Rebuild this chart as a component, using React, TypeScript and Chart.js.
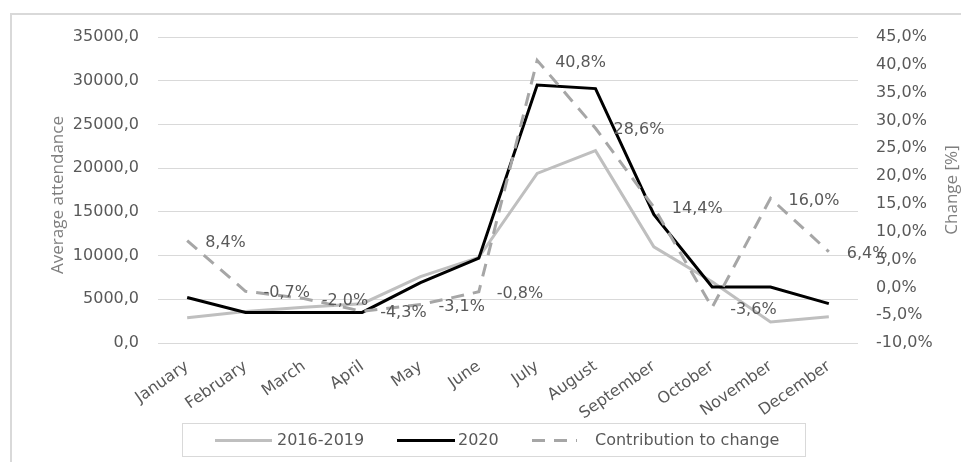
import React, { useEffect, useRef } from "react";
import { Chart, registerables } from "chart.js";

Chart.register(...registerables);

const months = [
  "January", "February", "March", "April", "May", "June",
  "July", "August", "September", "October", "November", "December",
];
const attendance2016to2019 = [2900, 3600, 4100, 4500, 7600, 9800, 19400, 22000, 11000, 7000, 2400, 3000];
const attendance2020 = [5200, 3500, 3500, 3500, 6900, 9700, 29500, 29100, 14700, 6400, 6400, 4500];
const contribution = [8.4, -0.7, -2.0, -4.3, -3.1, -0.8, 40.8, 28.6, 14.4, -3.6, 16.0, 6.4];

const seriesNames = ["2016-2019", "2020", "Contribution to change"];
const leftTitle = "Average attendance";
const rightTitle = "Change [%]";

const FONT = "'DejaVu Sans'";
const TITLE_FONT = "'Open Sans'";
const TEXT = "#595959";
const GRID = "#d9d9d9";
const GREY = "#bfbfbf";
const BLACK = "#000000";
const DASH = "#a6a6a6";

const fmtComma = (v: number, d = 1) => v.toFixed(d).replace(".", ",");

export default function App() {
  const ref = useRef<HTMLCanvasElement | null>(null);

  useEffect(() => {
    const canvas = ref.current;
    if (!canvas) return;

    const labelsPlugin = {
      id: "extras",
      afterDatasetsDraw(chart: any) {
        const ctx = chart.ctx;
        // data labels for contribution
        const meta = chart.getDatasetMeta(2);
        ctx.save();
        ctx.font = `16px ${FONT}`;
        ctx.fillStyle = TEXT;
        ctx.textAlign = "left";
        ctx.textBaseline = "middle";
        meta.data.forEach((pt: any, i: number) => {
          ctx.fillText(fmtComma(contribution[i]) + "%", pt.x + 18, pt.y + 2);
        });
        ctx.restore();
      },
      afterDraw(chart: any) {
        const ctx = chart.ctx;
        const area = chart.chartArea;
        const cy = (area.top + area.bottom) / 2;
        // axis titles
        ctx.save();
        ctx.font = `17px ${TITLE_FONT}`;
        ctx.fillStyle = "#7f7f7f";
        ctx.textAlign = "center";
        ctx.textBaseline = "middle";
        ctx.translate(58, cy + 5);
        ctx.rotate(-Math.PI / 2);
        ctx.fillText(leftTitle, 0, 0);
        ctx.restore();

        ctx.save();
        ctx.font = `17px ${TITLE_FONT}`;
        ctx.fillStyle = "#7f7f7f";
        ctx.textAlign = "center";
        ctx.textBaseline = "middle";
        ctx.translate(952, cy);
        ctx.rotate(-Math.PI / 2);
        ctx.fillText(rightTitle, 0, 0);
        ctx.restore();

        // legend
        ctx.save();
        ctx.strokeStyle = GRID;
        ctx.lineWidth = 1;
        ctx.strokeRect(182.5, 423.5, 623, 33);
        const ly = 440.5;
        const items = [
          { x0: 215, x1: 272, tx: 277, color: GREY, dash: [] as number[], name: seriesNames[0] },
          { x0: 397, x1: 455, tx: 458, color: BLACK, dash: [] as number[], name: seriesNames[1] },
          { x0: 532, x1: 577, tx: 595, color: DASH, dash: [13, 9], name: seriesNames[2] },
        ];
        ctx.font = `16px ${FONT}`;
        ctx.textAlign = "left";
        ctx.textBaseline = "middle";
        items.forEach((it) => {
          ctx.beginPath();
          ctx.setLineDash(it.dash);
          ctx.strokeStyle = it.color;
          ctx.lineWidth = 3;
          ctx.moveTo(it.x0, ly);
          ctx.lineTo(it.x1, ly);
          ctx.stroke();
          ctx.setLineDash([]);
          ctx.fillStyle = TEXT;
          ctx.fillText(it.name, it.tx, ly);
        });
        ctx.restore();
      },
    };

    const chart = new Chart(canvas, {
      type: "line",
      data: {
        labels: months,
        datasets: [
          {
            label: seriesNames[0],
            data: attendance2016to2019,
            borderColor: GREY,
            borderWidth: 3,
            pointRadius: 0,
            tension: 0,
            yAxisID: "y",
            order: 2,
          },
          {
            label: seriesNames[1],
            data: attendance2020,
            borderColor: BLACK,
            borderWidth: 3,
            pointRadius: 0,
            tension: 0,
            yAxisID: "y",
            order: 1,
          },
          {
            label: seriesNames[2],
            data: contribution,
            borderColor: DASH,
            borderWidth: 3,
            borderDash: [13, 9],
            pointRadius: 0,
            tension: 0,
            yAxisID: "y1",
            order: 0,
          },
        ],
      },
      options: {
        animation: false,
        responsive: false,
        devicePixelRatio: 1,
        layout: { padding: { top: 37, left: 0, right: 0, bottom: 0 } },
        plugins: {
          legend: { display: false },
          tooltip: { enabled: false },
          title: { display: false },
        },
        scales: {
          x: {
            offset: true,
            grid: { display: false },
            border: { display: false },
            ticks: {
              color: TEXT,
              font: { family: FONT, size: 16 },
              minRotation: 35,
              maxRotation: 35,
              padding: 6,
              autoSkip: false,
            },
            afterFit: (scale: any) => {
              scale.height = 119;
            },
          },
          y: {
            position: "left",
            min: 0,
            max: 35000,
            grid: { color: GRID, lineWidth: 1, drawTicks: false },
            border: { display: false },
            ticks: {
              stepSize: 5000,
              color: TEXT,
              font: { family: FONT, size: 16 },
              padding: 19,
              callback: (v: any) => fmtComma(Number(v)),
            },
            afterFit: (scale: any) => {
              scale.width = 158;
            },
          },
          y1: {
            position: "right",
            min: -10,
            max: 45,
            grid: { display: false, drawTicks: false },
            border: { display: false },
            ticks: {
              stepSize: 5,
              color: TEXT,
              font: { family: FONT, size: 16 },
              padding: 18,
              callback: (v: any) => fmtComma(Number(v)) + "%",
            },
            afterFit: (scale: any) => {
              scale.width = 103;
            },
          },
        },
      },
      plugins: [labelsPlugin],
    });

    return () => chart.destroy();
  }, []);

  return (
    <div style={{ position: "relative", width: 961, height: 462, overflow: "hidden", background: "#fff" }}>
      <style>{`body{margin:0}`}</style>
      <canvas ref={ref} width={961} height={462} style={{ position: "absolute", left: 0, top: 0, width: 961, height: 462 }} />
      <div
        style={{
          position: "absolute",
          left: 10,
          top: 13,
          width: 1000,
          height: 500,
          border: `2px solid ${GRID}`,
          pointerEvents: "none",
        }}
      />
    </div>
  );
}
